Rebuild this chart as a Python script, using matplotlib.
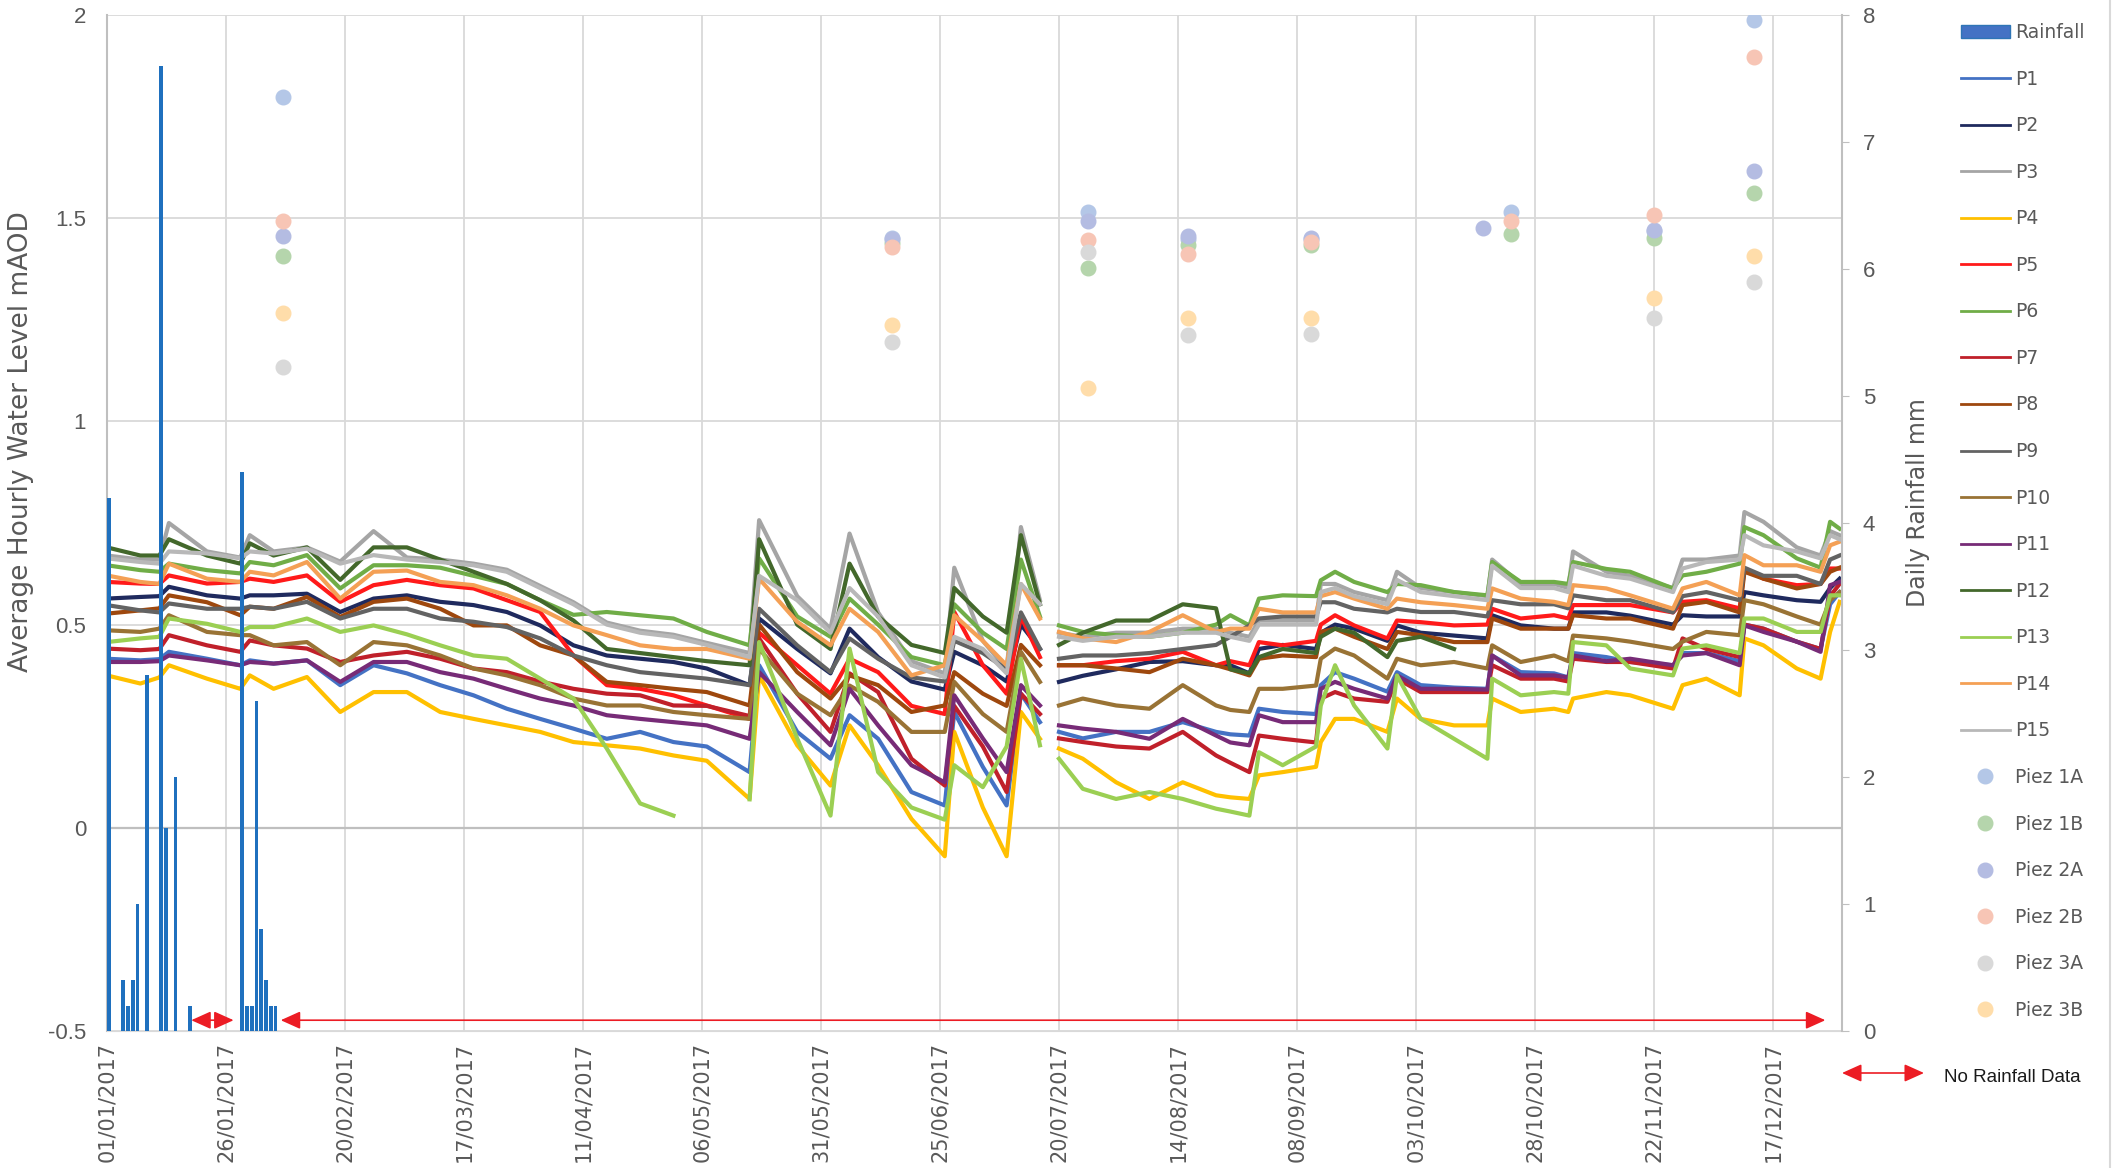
# Hourly groundwater levels P1-P15 with daily rainfall and piezometer dip readings, 2017.

import datetime as dt
import numpy as np
import matplotlib
matplotlib.use("Agg")
import matplotlib.pyplot as plt
import matplotlib.dates as mdates
from matplotlib.ticker import FixedLocator, FuncFormatter
from matplotlib.lines import Line2D
from matplotlib.patches import Patch

nan = np.nan

# ---- data (days counted from 01/01/2017) ----
level_days = [0, 7, 11, 13, 21, 28, 30, 35, 42, 49,
              56, 63, 70, 77, 84, 91, 98, 105, 112, 119,
              126, 135, 137, 145, 152, 156, 162, 169, 176, 178,
              184, 189, 192, 196, 198, 200, 205, 212, 219, 226,
              233, 236, 240, 242, 247, 254, 255, 258, 262, 269,
              271, 276, 283, 290, 291, 297, 304, 307, 308, 315,
              320, 329, 331, 336, 343, 344, 348, 355, 360, 362, 364]

p1 = [0.416, 0.412, 0.415, 0.433, 0.416, 0.400, 0.412, 0.404, 0.412, 0.351,
      0.400, 0.380, 0.351, 0.326, 0.293, 0.268, 0.244, 0.219, 0.236, 0.211,
      0.200, 0.137, 0.400, 0.236, 0.170, 0.277, 0.219, 0.088, 0.055, 0.285,
      0.150, 0.055, 0.330, 0.260, nan, 0.236, 0.220, 0.236, 0.236, 0.260,
      0.236, 0.230, 0.227, 0.293, 0.285, 0.280, 0.351, 0.383, 0.367, 0.335,
      0.383, 0.351, 0.345, 0.342, 0.424, 0.383, 0.380, 0.370, 0.430, 0.420,
      0.408, 0.400, 0.430, 0.430, 0.410, 0.500, 0.490, 0.458, 0.440, 0.550, 0.580]
p2 = [0.564, 0.568, 0.570, 0.593, 0.572, 0.564, 0.572, 0.572, 0.576, 0.531,
      0.564, 0.572, 0.556, 0.548, 0.531, 0.498, 0.449, 0.424, 0.416, 0.408,
      0.392, 0.351, 0.515, 0.440, 0.380, 0.490, 0.420, 0.360, 0.340, 0.433,
      0.400, 0.360, 0.500, 0.440, nan, 0.359, 0.374, 0.390, 0.408, 0.410,
      0.400, 0.400, 0.380, 0.440, 0.450, 0.440, 0.480, 0.500, 0.490, 0.460,
      0.498, 0.480, 0.473, 0.466, 0.523, 0.498, 0.490, 0.490, 0.530, 0.530,
      0.522, 0.500, 0.523, 0.520, 0.520, 0.580, 0.572, 0.560, 0.556, 0.590, 0.613]
p3 = [0.670, 0.660, 0.660, 0.750, 0.680, 0.665, 0.720, 0.680, 0.690, 0.655,
      0.730, 0.665, 0.660, 0.650, 0.635, 0.595, 0.555, 0.505, 0.485, 0.475,
      0.455, 0.430, 0.757, 0.570, 0.490, 0.724, 0.530, 0.410, 0.380, 0.640,
      0.460, 0.390, 0.740, 0.560, nan, 0.480, 0.470, 0.480, 0.480, 0.490,
      0.490, 0.480, 0.470, 0.510, 0.510, 0.510, 0.600, 0.600, 0.580, 0.560,
      0.630, 0.590, 0.580, 0.570, 0.660, 0.600, 0.600, 0.590, 0.680, 0.630,
      0.620, 0.590, 0.660, 0.660, 0.670, 0.777, 0.753, 0.690, 0.670, 0.730, 0.720]
p4 = [0.375, 0.355, 0.370, 0.400, 0.367, 0.342, 0.375, 0.342, 0.371, 0.285,
      0.334, 0.334, 0.285, 0.268, 0.252, 0.236, 0.211, 0.203, 0.195, 0.178,
      0.165, 0.071, 0.375, 0.203, 0.104, 0.252, 0.154, 0.022, -0.070, 0.236,
      0.050, -0.070, 0.285, 0.219, nan, 0.195, 0.170, 0.112, 0.071, 0.112,
      0.080, 0.075, 0.071, 0.129, 0.137, 0.150, 0.211, 0.268, 0.268, 0.236,
      0.318, 0.268, 0.252, 0.252, 0.318, 0.285, 0.293, 0.285, 0.318, 0.334,
      0.326, 0.293, 0.351, 0.367, 0.326, 0.466, 0.449, 0.392, 0.367, 0.482, 0.556]
p5 = [0.605, 0.601, 0.600, 0.621, 0.601, 0.605, 0.613, 0.605, 0.621, 0.556,
      0.597, 0.610, 0.597, 0.589, 0.560, 0.531, 0.424, 0.351, 0.342, 0.326,
      0.301, 0.268, 0.480, 0.400, 0.330, 0.416, 0.383, 0.300, 0.280, 0.531,
      0.400, 0.330, 0.520, 0.420, nan, 0.400, 0.400, 0.410, 0.416, 0.433,
      0.400, 0.410, 0.400, 0.457, 0.449, 0.460, 0.500, 0.523, 0.498, 0.466,
      0.510, 0.506, 0.498, 0.500, 0.539, 0.515, 0.523, 0.515, 0.548, 0.548,
      0.548, 0.530, 0.556, 0.560, 0.540, 0.638, 0.613, 0.597, 0.600, 0.638, 0.638]
p6 = [0.646, 0.634, 0.630, 0.650, 0.634, 0.626, 0.654, 0.646, 0.671, 0.589,
      0.646, 0.646, 0.640, 0.620, 0.600, 0.560, 0.524, 0.531, 0.523, 0.515,
      0.482, 0.449, 0.663, 0.520, 0.470, 0.564, 0.500, 0.420, 0.400, 0.550,
      0.480, 0.440, 0.660, 0.520, nan, 0.498, 0.482, 0.474, 0.470, 0.480,
      0.500, 0.523, 0.498, 0.564, 0.572, 0.570, 0.609, 0.630, 0.605, 0.580,
      0.600, 0.597, 0.580, 0.572, 0.654, 0.605, 0.605, 0.600, 0.654, 0.637,
      0.630, 0.589, 0.621, 0.630, 0.650, 0.740, 0.720, 0.663, 0.640, 0.753, 0.736]
p7 = [0.441, 0.437, 0.440, 0.474, 0.449, 0.433, 0.461, 0.449, 0.441, 0.408,
      0.424, 0.433, 0.416, 0.392, 0.383, 0.360, 0.342, 0.330, 0.326, 0.301,
      0.300, 0.275, 0.466, 0.330, 0.236, 0.380, 0.334, 0.170, 0.104, 0.300,
      0.200, 0.088, 0.330, 0.280, nan, 0.220, 0.211, 0.200, 0.195, 0.236,
      0.178, 0.160, 0.137, 0.227, 0.219, 0.210, 0.318, 0.334, 0.318, 0.310,
      0.367, 0.334, 0.334, 0.334, 0.400, 0.367, 0.367, 0.360, 0.416, 0.408,
      0.408, 0.392, 0.466, 0.440, 0.420, 0.500, 0.490, 0.458, 0.440, 0.570, 0.600]
p8 = [0.527, 0.535, 0.540, 0.572, 0.555, 0.523, 0.544, 0.539, 0.568, 0.519,
      0.556, 0.564, 0.539, 0.498, 0.498, 0.449, 0.424, 0.359, 0.351, 0.342,
      0.334, 0.301, 0.500, 0.383, 0.318, 0.375, 0.351, 0.285, 0.301, 0.383,
      0.330, 0.300, 0.450, 0.400, nan, 0.400, 0.400, 0.392, 0.383, 0.416,
      0.400, 0.390, 0.375, 0.416, 0.424, 0.420, 0.482, 0.490, 0.470, 0.440,
      0.482, 0.474, 0.457, 0.457, 0.515, 0.490, 0.490, 0.490, 0.523, 0.515,
      0.515, 0.490, 0.548, 0.556, 0.530, 0.630, 0.613, 0.589, 0.600, 0.630, 0.640]
p9 = [0.548, 0.535, 0.530, 0.552, 0.539, 0.539, 0.544, 0.539, 0.556, 0.515,
      0.539, 0.539, 0.515, 0.507, 0.494, 0.466, 0.424, 0.400, 0.383, 0.375,
      0.367, 0.351, 0.539, 0.449, 0.383, 0.466, 0.416, 0.370, 0.360, 0.460,
      0.430, 0.390, 0.530, 0.441, nan, 0.416, 0.424, 0.424, 0.430, 0.440,
      0.450, 0.470, 0.498, 0.515, 0.520, 0.520, 0.555, 0.555, 0.539, 0.530,
      0.539, 0.531, 0.531, 0.520, 0.560, 0.550, 0.550, 0.540, 0.572, 0.560,
      0.560, 0.530, 0.570, 0.580, 0.560, 0.640, 0.620, 0.620, 0.600, 0.660, 0.670]
p10 = [0.486, 0.482, 0.490, 0.523, 0.482, 0.474, 0.474, 0.449, 0.457, 0.400,
       0.457, 0.449, 0.424, 0.392, 0.375, 0.351, 0.318, 0.301, 0.301, 0.285,
       0.277, 0.268, 0.441, 0.330, 0.277, 0.350, 0.310, 0.236, 0.236, 0.359,
       0.280, 0.236, 0.433, 0.359, nan, 0.301, 0.318, 0.301, 0.293, 0.351,
       0.301, 0.290, 0.285, 0.342, 0.342, 0.350, 0.416, 0.441, 0.424, 0.367,
       0.416, 0.400, 0.408, 0.392, 0.449, 0.408, 0.424, 0.410, 0.473, 0.466,
       0.458, 0.440, 0.458, 0.482, 0.474, 0.560, 0.550, 0.520, 0.500, 0.560, 0.580]
p11 = [0.408, 0.408, 0.410, 0.424, 0.412, 0.400, 0.408, 0.404, 0.412, 0.359,
       0.408, 0.408, 0.383, 0.367, 0.342, 0.318, 0.301, 0.277, 0.268, 0.260,
       0.252, 0.219, 0.383, 0.285, 0.203, 0.342, 0.252, 0.154, 0.112, 0.326,
       0.220, 0.137, 0.351, 0.301, nan, 0.252, 0.244, 0.236, 0.219, 0.268,
       0.227, 0.210, 0.203, 0.277, 0.260, 0.260, 0.342, 0.359, 0.342, 0.318,
       0.375, 0.342, 0.342, 0.340, 0.424, 0.375, 0.375, 0.370, 0.424, 0.410,
       0.416, 0.400, 0.424, 0.430, 0.400, 0.498, 0.482, 0.458, 0.433, 0.597, 0.605]
p12 = [0.690, 0.670, 0.670, 0.710, 0.670, 0.650, 0.700, 0.670, 0.690, 0.610,
       0.690, 0.690, 0.660, 0.630, 0.600, 0.560, 0.510, 0.440, 0.430, 0.420,
       0.410, 0.400, 0.710, 0.500, 0.440, 0.650, 0.520, 0.450, 0.430, 0.590,
       0.520, 0.480, 0.720, 0.550, nan, 0.450, 0.480, 0.510, 0.510, 0.550,
       0.540, 0.390, 0.380, 0.420, 0.440, 0.430, 0.470, 0.490, 0.480, 0.420,
       0.460, 0.470, 0.440, nan, nan, nan, nan, nan, nan, nan,
       nan, nan, nan, nan, nan, nan, nan, nan, nan, nan, nan]
p13 = [0.457, 0.466, 0.470, 0.515, 0.502, 0.482, 0.494, 0.494, 0.515, 0.482,
       0.498, 0.476, 0.449, 0.424, 0.416, 0.367, 0.318, 0.195, 0.060, 0.030,
       nan, 0.070, 0.457, 0.220, 0.030, 0.441, 0.137, 0.050, 0.020, 0.154,
       0.100, 0.200, 0.416, 0.203, nan, 0.170, 0.096, 0.071, 0.088, 0.071,
       0.047, 0.040, 0.030, 0.186, 0.154, 0.200, 0.301, 0.400, 0.301, 0.195,
       0.375, 0.268, 0.219, 0.170, 0.367, 0.326, 0.334, 0.330, 0.457, 0.449,
       0.392, 0.375, 0.441, 0.449, 0.430, 0.515, 0.515, 0.482, 0.482, 0.572, 0.572]
p14 = [0.621, 0.605, 0.600, 0.650, 0.613, 0.605, 0.630, 0.621, 0.654, 0.564,
       0.630, 0.633, 0.605, 0.597, 0.572, 0.539, 0.498, 0.474, 0.449, 0.440,
       0.440, 0.416, 0.613, 0.507, 0.449, 0.539, 0.482, 0.375, 0.400, 0.523,
       0.460, 0.400, 0.600, 0.515, nan, 0.482, 0.466, 0.457, 0.482, 0.523,
       0.482, 0.490, 0.490, 0.539, 0.530, 0.530, 0.570, 0.580, 0.564, 0.539,
       0.564, 0.555, 0.548, 0.539, 0.589, 0.564, 0.556, 0.548, 0.597, 0.589,
       0.572, 0.539, 0.589, 0.605, 0.572, 0.671, 0.646, 0.646, 0.630, 0.695, 0.704]
p15 = [0.663, 0.654, 0.650, 0.680, 0.675, 0.663, 0.680, 0.675, 0.687, 0.650,
       0.671, 0.660, 0.654, 0.646, 0.630, 0.590, 0.550, 0.500, 0.480, 0.470,
       0.450, 0.420, 0.620, 0.560, 0.480, 0.590, 0.520, 0.400, 0.370, 0.470,
       0.440, 0.380, 0.600, 0.550, nan, 0.470, 0.460, 0.470, 0.470, 0.480,
       0.480, 0.470, 0.460, 0.500, 0.500, 0.500, 0.580, 0.590, 0.570, 0.550,
       0.610, 0.580, 0.570, 0.560, 0.645, 0.590, 0.590, 0.580, 0.645, 0.620,
       0.613, 0.580, 0.638, 0.654, 0.660, 0.720, 0.695, 0.680, 0.663, 0.720, 0.710]

# piezometer dip readings
survey_days = [37, 165, 206, 227, 253, 289, 295, 325, 346]
piez_1a = [1.797, 1.452, 1.516, 1.450, 1.450, nan, 1.515, 1.468, 1.987]
piez_1b = [1.407, 1.440, 1.377, 1.434, 1.434, nan, 1.461, 1.451, 1.562]
piez_2a = [1.457, 1.448, 1.492, 1.455, 1.452, 1.477, nan, 1.471, 1.617]
piez_2b = [1.493, 1.430, 1.447, 1.411, 1.442, nan, 1.492, 1.508, 1.897]
piez_3a = [1.133, 1.196, 1.416, 1.213, 1.214, nan, nan, 1.254, 1.342]
piez_3b = [1.267, 1.237, 1.081, 1.254, 1.254, nan, nan, 1.303, 1.406]

# daily rainfall (mm)
rain_days = [0, 3, 4, 5, 6, 8, 11, 12, 14, 17, 28, 29, 30, 31, 32, 33, 34, 35]
rain_mm = [4.2, 0.4, 0.2, 0.4, 1.0, 2.8, 7.6, 1.6, 2.0, 0.2,
           4.4, 0.2, 0.2, 2.6, 0.8, 0.4, 0.2, 0.2]

# periods without rainfall record (start day, end day)
no_rain_periods = [(17.7, 26.6), (36.5, 361.0)]

line_names = ["P%d" % i for i in range(1, 16)]
line_colors = ["#4472C4", "#1F2A5E", "#A5A5A5", "#FFC000", "#FF1A1A",
               "#70AD47", "#C0202A", "#9E480E", "#636363", "#997335",
               "#772B77", "#43682B", "#9BCF53", "#F4A055", "#B8B8B8"]
piez_names = ["Piez 1A", "Piez 1B", "Piez 2A", "Piez 2B", "Piez 3A", "Piez 3B"]
piez_colors = ["#B4C7E7", "#B5D5AC", "#B4BCE2", "#F7C5B5", "#D9D9D9", "#FFDDAA"]

GREY_TXT = "#595959"
RED = "#EC1C24"
NARROW = ["Liberation Sans", "DejaVu Sans"]


def main():
    levels = [p1, p2, p3, p4, p5, p6, p7, p8, p9, p10, p11, p12, p13, p14, p15]
    piez = [piez_1a, piez_1b, piez_2a, piez_2b, piez_3a, piez_3b]
    for s in levels:
        assert len(s) == len(level_days)

    base = mdates.date2num(dt.datetime(2017, 1, 1))
    x_lv = base + np.array(level_days, float)
    x_sv = base + np.array(survey_days, float)
    x_rn = base + np.array(rain_days, float)

    fig = plt.figure(figsize=(21.21, 11.68), dpi=100)
    ax = fig.add_axes([107 / 2121, 1 - 1031 / 1168, 1735 / 2121, 1016 / 1168])
    ax2 = ax.twinx()

    # water levels
    for vals, col in zip(levels, line_colors):
        ax.plot(x_lv, vals, color=col, lw=3.0, solid_joinstyle="round", zorder=2)
    for vals, col in zip(piez, piez_colors):
        ax.plot(x_sv, vals, "o", ls="none", ms=10.5, color=col, zorder=3)

    ax.axhline(0, color="#BFBFBF", lw=1.6, zorder=1.5)
    ax.set_ylim(-0.5, 2)
    ax.set_xlim(base, base + 364.5)
    ax.yaxis.set_major_locator(FixedLocator(np.arange(-0.5, 2.01, 0.5)))
    ax.yaxis.set_major_formatter(FuncFormatter(lambda v, _: "%g" % v))
    ax.xaxis.set_major_locator(FixedLocator(base + np.arange(0, 351, 25)))
    ax.xaxis.set_major_formatter(mdates.DateFormatter("%d/%m/%Y"))
    ax.grid(True, color="#D9D9D9", lw=1.3)
    ax.set_axisbelow(True)
    ax.tick_params(axis="y", length=0, pad=15, labelsize=16, labelcolor=GREY_TXT)
    ax.tick_params(axis="x", length=0, pad=8, labelsize=15, labelcolor=GREY_TXT,
                   labelrotation=90)
    for lab in ax.get_yticklabels():
        lab.set_family(NARROW)
    ax.set_ylabel("Average Hourly Water Level mAOD", fontsize=19, color=GREY_TXT)
    ax.yaxis.set_label_coords(-0.042, 0.58)

    # rainfall
    ax2.bar(x_rn, rain_mm, width=0.8, align="edge", color="#1F70BE", zorder=3)
    ax2.set_ylim(0, 8)
    ax2.set_yticks(range(0, 9))
    ax2.tick_params(axis="y", length=5, color="#BFBFBF", pad=10, labelsize=16,
                    labelcolor=GREY_TXT)
    for lab in ax2.get_yticklabels():
        lab.set_family(NARROW)
    ax2.set_ylabel("Daily Rainfall mm", fontsize=17, color=GREY_TXT)
    ax2.yaxis.set_label_coords(1.037, 0.52)

    for s in ["top", "right"]:
        ax.spines[s].set_visible(False)
    ax.spines["left"].set_color("#BFBFBF")
    ax.spines["bottom"].set_color("#D9D9D9")
    for s in ["top", "left", "bottom"]:
        ax2.spines[s].set_visible(False)
    ax2.spines["right"].set_color("#BFBFBF")
    ax.spines["left"].set_linewidth(1.5)
    ax2.spines["right"].set_linewidth(1.5)

    arrow = dict(arrowstyle="<|-|>,head_length=1.0,head_width=0.45", color=RED,
                 lw=1.2, mutation_scale=12, shrinkA=0, shrinkB=0)
    for s, e in no_rain_periods:
        ax2.annotate("", xy=(base + e, 0.085), xytext=(base + s, 0.085),
                     arrowprops=arrow, annotation_clip=False, zorder=4)

    # legend
    handles = [Patch(facecolor="#4472C4", edgecolor="#2E75B6")]
    handles += [Line2D([], [], color=c, lw=2) for c in line_colors]
    handles += [Line2D([], [], marker="o", ls="none", ms=10.5, color=c) for c in piez_colors]
    labels = ["Rainfall"] + line_names + piez_names
    leg = fig.legend(handles, labels, loc="upper left",
                     bbox_to_anchor=(1961 / 2121, 1 - 23 / 1168), frameon=False,
                     fontsize=13.5, handlelength=2.6, handletextpad=0.3,
                     labelspacing=1.47, borderpad=0, borderaxespad=0)
    for t in leg.get_texts():
        t.set_color(GREY_TXT)

    ax2.annotate("", xy=(1924 / 2121, 1 - 1073 / 1168), xytext=(1842 / 2121, 1 - 1073 / 1168),
                 xycoords="figure fraction", textcoords="figure fraction",
                 arrowprops=arrow, annotation_clip=False)
    fig.text(1944 / 2121, 1 - 1078 / 1168, "No Rainfall Data", family=NARROW,
             fontsize=13.5, color="#1A1A1A", va="center", ha="left")

    fig.add_artist(Line2D([2110 / 2121] * 2, [0, 1], transform=fig.transFigure,
                          color="#D9D9D9", lw=1.5))

    fig.savefig("out.png", dpi=100)
    plt.close(fig)


if __name__ == "__main__":
    main()
